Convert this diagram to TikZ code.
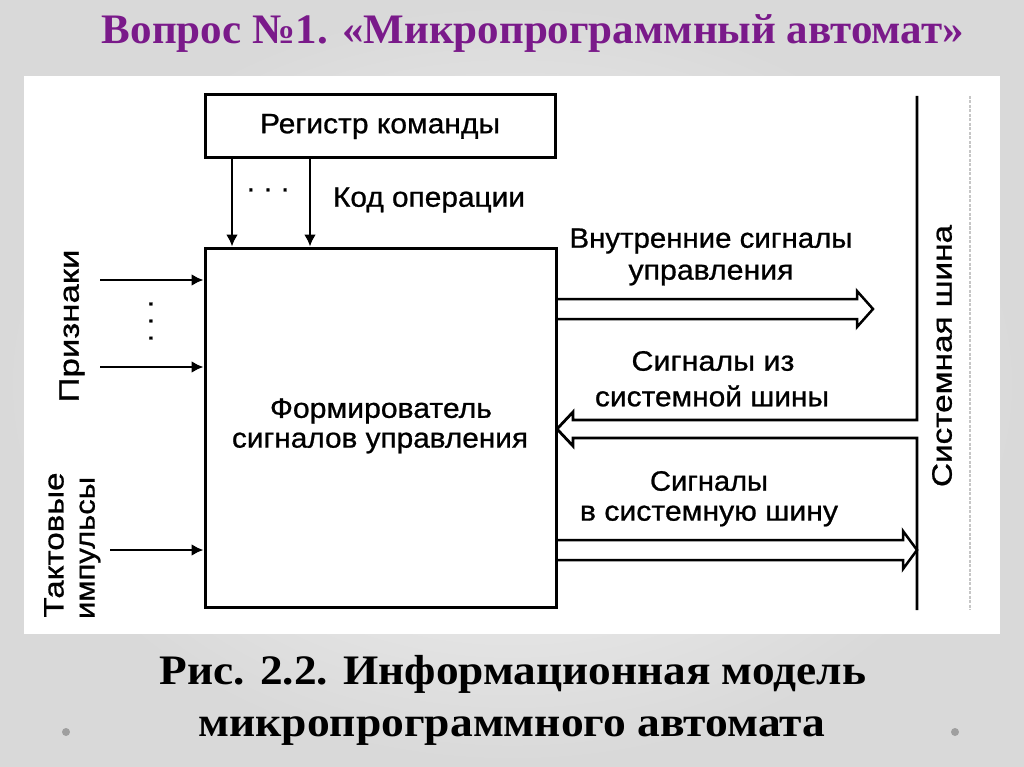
\documentclass[tikz,border=0pt]{standalone}
\usepackage{fontspec}
\setmainfont{Liberation Serif}
\newfontfamily\diag[FakeBold=0.8]{Liberation Sans}
\usepackage{graphicx}
\usetikzlibrary{arrows.meta}
\definecolor{ttl}{RGB}{122,26,138}
\newcommand\fw[2]{\resizebox{#1pt}{\height}{#2}}
\begin{document}
\begin{tikzpicture}[x=1pt,y=-1pt,
  box/.style={draw, line width=3pt, inner sep=0pt},
  lbl/.style={font=\diag\fontsize{28}{30}\selectfont, inner sep=0pt},
  arr/.style={line width=2.5pt, -{Latex[length=12pt,width=12pt]}},
  bus/.style={line width=2.8pt, line join=miter},
  dbl/.style={line width=2.5pt, line join=miter},
  big/.style={font=\bfseries\fontsize{42}{44}\selectfont, anchor=base, inner sep=0pt}]
\useasboundingbox (0,0) rectangle (1024,767);
\shade[inner color=white!97!black, outer color=black!15] (0,0) rectangle (1024,767);
\fill[white] (24,76) rectangle (1000,634);

% title and caption
\node[big, font=\bfseries\fontsize{42}{44}\selectfont, text=ttl] (title) at (533,44) {\fw{862}{Вопрос №1. «Микропрограммный автомат»}};
\node[big] (cap1) at (513,684) {\fw{706}{Рис. 2.2. Информационная модель}};
\node[big] (cap2) at (512,736) {\fw{627}{микропрограммного автомата}};
\fill[gray!75] (66,732) circle[radius=4pt];
\fill[gray!75] (955,732) circle[radius=4pt];

% boxes
\node[box, lbl, minimum width=350pt, minimum height=63pt] (reg) at (380,126.5) {\fw{240}{Регистр команды}};
\node[box, minimum width=351pt, minimum height=359pt] (main) at (380.5,427.5) {};
\node[lbl] (form1) at (381,411) {\fw{222}{Формирователь}};
\node[lbl] (form2) at (380,443) {\fw{296}{сигналов управления}};

% register to main
\coordinate (k1) at (232,0);
\coordinate (k2) at (310,0);
\draw[arr] (reg.south -| k1) -- (main.north -| k1);
\draw[arr] (reg.south -| k2) -- (main.north -| k2);
\node[lbl] (hdots) at (268,193) {· · ·};
\node[lbl] (kod) at (429,200) {\fw{192}{Код операции}};

% left inputs
\coordinate (p1) at (100,280);
\coordinate (p2) at (100,367);
\coordinate (t1) at (110,550);
\draw[arr] (p1) -- (main.west |- p1);
\draw[arr] (p2) -- (main.west |- p2);
\draw[arr] (t1) -- (main.west |- t1);
\node[lbl, rotate=90] (vdots) at (154,321) {· · ·};
\node[lbl, rotate=90] (prizn) at (72,326) {\fw{153}{Признаки}};
\node[lbl, rotate=90] (takt1) at (54,545) {\fw{145}{Тактовые}};
\node[lbl, rotate=90] (takt2) at (90,548) {\fw{142}{импульсы}};

% system bus
\coordinate (bt) at (917,96);
\coordinate (bb) at (917,610);
\coordinate (bg1) at (917,420);
\coordinate (bg2) at (917,438);
\coordinate (a2t) at (573,420);
\coordinate (a2b) at (573,438);
\draw[bus] (bt) -- (bg1) -- (a2t) -- ++(0,-8) -- ++(-16,17) -- ++(16,17) -- (a2b) -- (bg2) -- (bb);
\coordinate (g1) at (970,96);
\coordinate (g2) at (970,610);
\draw[gray!45, line width=1.5pt, dash pattern=on 3pt off 1.5pt] (g1) -- (g2);
\node[lbl, rotate=90] (sysbus) at (942,356) {\fw{262}{Системная шина}};

% outgoing double arrows
\coordinate (a1t) at (857,299);
\coordinate (a1b) at (857,319);
\draw[dbl] (main.east |- a1t) -- (a1t) -- ++(0,-8) -- ++(16,18) -- ++(-16,18) -- (a1b) -- (main.east |- a1b);
\coordinate (a3t) at (903,540);
\coordinate (a3b) at (903,560);
\draw[dbl] (main.east |- a3t) -- (a3t) -- ++(0,-9) -- ++(14,19) -- ++(-14,19) -- (a3b) -- (main.east |- a3b);

% arrow labels
\node[lbl] (vn1) at (711,241) {\fw{283}{Внутренние сигналы}};
\node[lbl] (vn2) at (711,275) {\fw{165}{управления}};
\node[lbl] (iz1) at (713,361) {\fw{163}{Сигналы из}};
\node[lbl] (iz2) at (712,396) {\fw{234}{системной шины}};
\node[lbl] (vs1) at (709,481) {\fw{118}{Сигналы}};
\node[lbl] (vs2) at (709,516) {\fw{258}{в системную шину}};
\end{tikzpicture}
\end{document}
